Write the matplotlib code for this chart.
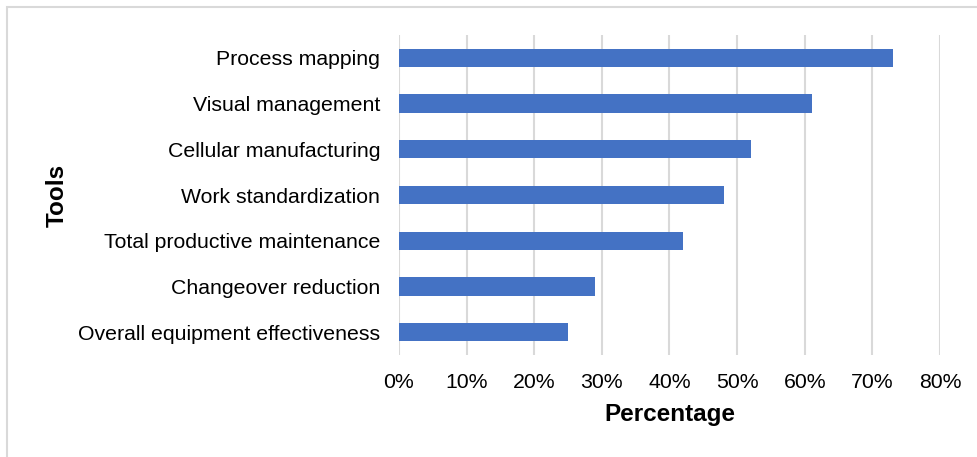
import matplotlib
matplotlib.use('Agg')
import matplotlib.pyplot as plt
from matplotlib.patches import Rectangle
from matplotlib.ticker import PercentFormatter

plt.rcParams['font.family'] = ['Liberation Sans', 'DejaVu Sans']

tools = ['Process mapping', 'Visual management', 'Cellular manufacturing',
         'Work standardization', 'Total productive maintenance',
         'Changeover reduction', 'Overall equipment effectiveness']
share = [73, 61, 52, 48, 42, 29, 25]
xticks = [0, 10, 20, 30, 40, 50, 60, 70, 80]

W, H = 978, 457
fig = plt.figure(figsize=(W / 100, H / 100), dpi=100)
ax = fig.add_axes([399 / W, 1 - 355 / H, 541 / W, 320 / H])

# outer frame of the chart area
fig.patches.append(Rectangle((7.5 / W, -0.1), 1, 1.1 - 7 / H, transform=fig.transFigure,
                             fill=False, edgecolor='#d9d9d9', linewidth=1.5))

ypos = list(range(len(tools)))[::-1]
ax.barh(ypos, share, height=0.4, color='#4472C4', zorder=3)

ax.set_xlim(0, 80)
ax.set_ylim(-0.5, len(tools) - 0.5)
ax.set_xticks(xticks)
ax.xaxis.set_major_formatter(PercentFormatter(decimals=0))
ax.set_yticks(ypos)
ax.set_yticklabels(tools)
ax.grid(axis='x', color='#d9d9d9', linewidth=1.5, zorder=0)
for s in ax.spines.values():
    s.set_visible(False)
ax.tick_params(axis='both', length=0, labelsize=15.3, colors='black')
ax.tick_params(axis='y', pad=13.5)
ax.tick_params(axis='x', pad=13)

ax.set_xlabel('Percentage', fontsize=17.5, fontweight='bold', labelpad=8)
ax.set_ylabel('Tools', fontsize=17.5, fontweight='bold', labelpad=7)

fig.savefig('out.png', dpi=100)
